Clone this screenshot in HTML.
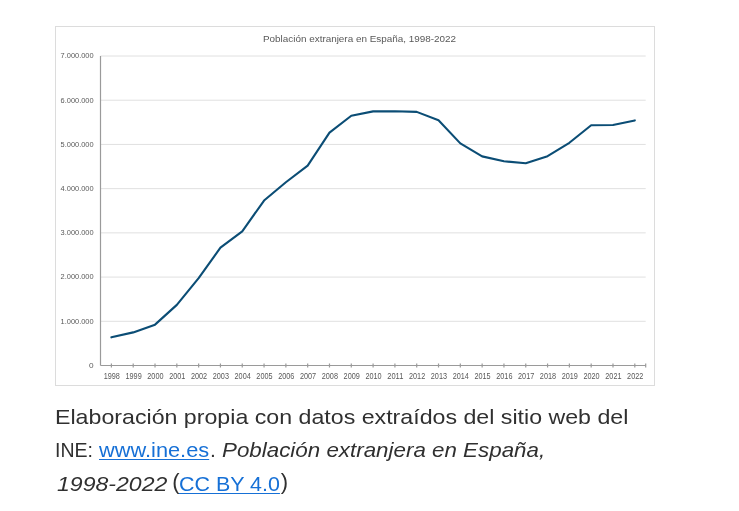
<!DOCTYPE html>
<html><head><meta charset="utf-8"><style>
html,body{margin:0;padding:0;background:#fff;width:739px;height:511px;overflow:hidden;}
body{position:relative;font-family:"Liberation Sans",sans-serif;}
.chart{position:absolute;left:0;top:0;will-change:transform;font-family:"Liberation Sans",sans-serif;}
.cap{position:absolute;left:0;top:0;will-change:transform;font-size:21px;color:#303030;white-space:nowrap;line-height:1;}
.cap span{position:absolute;white-space:nowrap;transform-origin:0 0;}
.cap a{color:#1670d6;text-decoration:underline;text-decoration-thickness:1px;text-underline-offset:2px;}
.it{font-style:italic;}
</style></head><body>
<svg class="chart" width="739" height="400" viewBox="0 0 739 400">
<rect x="55.5" y="26.5" width="599" height="359" fill="#fff" stroke="#dcdcdc" stroke-width="1"/>
<text x="263" y="42.3" textLength="193" lengthAdjust="spacingAndGlyphs" font-size="9.6" fill="#595959">Población extranjera en España, 1998-2022</text>
<g stroke="#e0e0e0" stroke-width="1"><line x1="100.5" y1="321.29" x2="645.7" y2="321.29"/><line x1="100.5" y1="277.07" x2="645.7" y2="277.07"/><line x1="100.5" y1="232.86" x2="645.7" y2="232.86"/><line x1="100.5" y1="188.64" x2="645.7" y2="188.64"/><line x1="100.5" y1="144.43" x2="645.7" y2="144.43"/><line x1="100.5" y1="100.21" x2="645.7" y2="100.21"/><line x1="100.5" y1="56.00" x2="645.7" y2="56.00"/></g>
<g stroke="#9a9a9a" stroke-width="1.2"><line x1="100.5" y1="56.0" x2="100.5" y2="365.5"/><line x1="100.5" y1="365.5" x2="645.7" y2="365.5"/><line x1="111.40" y1="363.5" x2="111.40" y2="367.5"/><line x1="133.21" y1="363.5" x2="133.21" y2="367.5"/><line x1="155.02" y1="363.5" x2="155.02" y2="367.5"/><line x1="176.83" y1="363.5" x2="176.83" y2="367.5"/><line x1="198.64" y1="363.5" x2="198.64" y2="367.5"/><line x1="220.44" y1="363.5" x2="220.44" y2="367.5"/><line x1="242.25" y1="363.5" x2="242.25" y2="367.5"/><line x1="264.06" y1="363.5" x2="264.06" y2="367.5"/><line x1="285.87" y1="363.5" x2="285.87" y2="367.5"/><line x1="307.68" y1="363.5" x2="307.68" y2="367.5"/><line x1="329.48" y1="363.5" x2="329.48" y2="367.5"/><line x1="351.29" y1="363.5" x2="351.29" y2="367.5"/><line x1="373.10" y1="363.5" x2="373.10" y2="367.5"/><line x1="394.91" y1="363.5" x2="394.91" y2="367.5"/><line x1="416.72" y1="363.5" x2="416.72" y2="367.5"/><line x1="438.52" y1="363.5" x2="438.52" y2="367.5"/><line x1="460.33" y1="363.5" x2="460.33" y2="367.5"/><line x1="482.14" y1="363.5" x2="482.14" y2="367.5"/><line x1="503.95" y1="363.5" x2="503.95" y2="367.5"/><line x1="525.76" y1="363.5" x2="525.76" y2="367.5"/><line x1="547.56" y1="363.5" x2="547.56" y2="367.5"/><line x1="569.37" y1="363.5" x2="569.37" y2="367.5"/><line x1="591.18" y1="363.5" x2="591.18" y2="367.5"/><line x1="612.99" y1="363.5" x2="612.99" y2="367.5"/><line x1="634.80" y1="363.5" x2="634.80" y2="367.5"/><line x1="645.70" y1="363.5" x2="645.70" y2="367.5"/></g>
<g font-size="8.1" fill="#595959" text-anchor="end"><text x="93.6" y="367.90" textLength="4.6" lengthAdjust="spacingAndGlyphs">0</text><text x="93.6" y="323.69" textLength="33" lengthAdjust="spacingAndGlyphs">1.000.000</text><text x="93.6" y="279.47" textLength="33" lengthAdjust="spacingAndGlyphs">2.000.000</text><text x="93.6" y="235.26" textLength="33" lengthAdjust="spacingAndGlyphs">3.000.000</text><text x="93.6" y="191.04" textLength="33" lengthAdjust="spacingAndGlyphs">4.000.000</text><text x="93.6" y="146.83" textLength="33" lengthAdjust="spacingAndGlyphs">5.000.000</text><text x="93.6" y="102.61" textLength="33" lengthAdjust="spacingAndGlyphs">6.000.000</text><text x="93.6" y="58.40" textLength="33" lengthAdjust="spacingAndGlyphs">7.000.000</text></g>
<g font-size="8.2" fill="#595959"><text x="103.70" y="378.5" textLength="16.2" lengthAdjust="spacingAndGlyphs">1998</text><text x="125.51" y="378.5" textLength="16.2" lengthAdjust="spacingAndGlyphs">1999</text><text x="147.32" y="378.5" textLength="16.2" lengthAdjust="spacingAndGlyphs">2000</text><text x="169.13" y="378.5" textLength="16.2" lengthAdjust="spacingAndGlyphs">2001</text><text x="190.94" y="378.5" textLength="16.2" lengthAdjust="spacingAndGlyphs">2002</text><text x="212.74" y="378.5" textLength="16.2" lengthAdjust="spacingAndGlyphs">2003</text><text x="234.55" y="378.5" textLength="16.2" lengthAdjust="spacingAndGlyphs">2004</text><text x="256.36" y="378.5" textLength="16.2" lengthAdjust="spacingAndGlyphs">2005</text><text x="278.17" y="378.5" textLength="16.2" lengthAdjust="spacingAndGlyphs">2006</text><text x="299.98" y="378.5" textLength="16.2" lengthAdjust="spacingAndGlyphs">2007</text><text x="321.78" y="378.5" textLength="16.2" lengthAdjust="spacingAndGlyphs">2008</text><text x="343.59" y="378.5" textLength="16.2" lengthAdjust="spacingAndGlyphs">2009</text><text x="365.40" y="378.5" textLength="16.2" lengthAdjust="spacingAndGlyphs">2010</text><text x="387.21" y="378.5" textLength="16.2" lengthAdjust="spacingAndGlyphs">2011</text><text x="409.02" y="378.5" textLength="16.2" lengthAdjust="spacingAndGlyphs">2012</text><text x="430.82" y="378.5" textLength="16.2" lengthAdjust="spacingAndGlyphs">2013</text><text x="452.63" y="378.5" textLength="16.2" lengthAdjust="spacingAndGlyphs">2014</text><text x="474.44" y="378.5" textLength="16.2" lengthAdjust="spacingAndGlyphs">2015</text><text x="496.25" y="378.5" textLength="16.2" lengthAdjust="spacingAndGlyphs">2016</text><text x="518.06" y="378.5" textLength="16.2" lengthAdjust="spacingAndGlyphs">2017</text><text x="539.86" y="378.5" textLength="16.2" lengthAdjust="spacingAndGlyphs">2018</text><text x="561.67" y="378.5" textLength="16.2" lengthAdjust="spacingAndGlyphs">2019</text><text x="583.48" y="378.5" textLength="16.2" lengthAdjust="spacingAndGlyphs">2020</text><text x="605.29" y="378.5" textLength="16.2" lengthAdjust="spacingAndGlyphs">2021</text><text x="627.10" y="378.5" textLength="16.2" lengthAdjust="spacingAndGlyphs">2022</text></g>
<polyline points="111.40,337.33 133.21,332.39 155.02,324.65 176.83,304.90 198.64,278.05 220.44,247.71 242.25,231.34 264.06,200.55 285.87,182.27 307.68,165.67 329.48,132.55 351.29,115.75 373.10,111.37 394.91,111.20 416.72,111.88 438.52,120.28 460.33,143.39 482.14,156.38 503.95,161.29 525.76,163.32 547.56,156.16 569.37,142.80 591.18,125.23 612.99,124.97 634.80,120.42" fill="none" stroke="#0b4d75" stroke-width="2.1" stroke-linejoin="round" stroke-linecap="round"/>
</svg>
<div class="cap">
<span id="l1" style="left:54.7px;top:406.2px;transform:scaleX(1.1037)">Elaboración propia con datos extraídos del sitio web del</span>
<span id="l2a" style="left:54.77px;top:439.2px;transform:scaleX(0.93)">INE:</span>
<span id="l2b" style="left:99.34px;top:439.2px;transform:scaleX(1.0374)"><a>www.ine.es</a></span>
<span id="l2c" style="left:210.07px;top:439.2px">.</span>
<span id="l2d" class="it" style="left:222.2px;top:439.2px;transform:scaleX(1.0646)">Población extranjera en España,</span>
<span id="l3a" class="it" style="left:57.3px;top:473.2px;transform:scaleX(1.0988)">1998-2022</span>
<span id="l3b" style="left:172.3px;top:471px;font-size:22px">(</span>
<span id="l3c" style="left:179.18px;top:473.2px;transform:scaleX(1.0213)"><a>CC BY 4.0</a></span>
<span id="l3d" style="left:280.8px;top:471px;font-size:22px">)</span>
</div>
</body></html>
